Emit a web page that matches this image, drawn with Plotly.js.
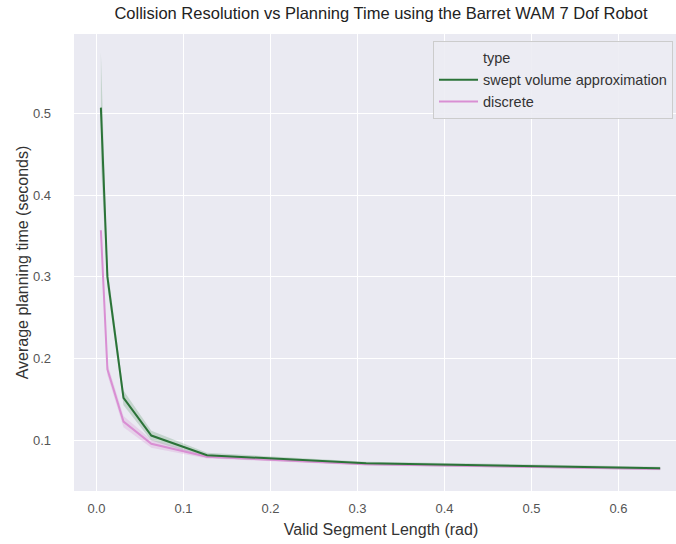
<!DOCTYPE html>
<html>
<head>
<meta charset="utf-8">
<script src="https://cdn.plot.ly/plotly-3.0.1.min.js"></script>
<style>
html,body{margin:0;padding:0;overflow:hidden;background:#fff;width:676px;height:544px;}
#chart{width:688px;height:544px;}
</style>
</head>
<body>
<div id="chart"></div>
<script>
// Data
const segmentLength = [0.005, 0.0125, 0.031, 0.063, 0.127, 0.31, 0.648];
const sweptMean = [0.507, 0.300, 0.152, 0.106, 0.082, 0.072, 0.066];
const sweptHi   = [0.575, 0.312, 0.161, 0.112, 0.085, 0.074, 0.068];
const sweptLo   = [0.440, 0.288, 0.143, 0.100, 0.079, 0.070, 0.064];
const discreteMean = [0.357, 0.187, 0.123, 0.096, 0.080, 0.071, 0.065];
const discreteHi   = [0.365, 0.194, 0.130, 0.101, 0.082, 0.0725, 0.0665];
const discreteLo   = [0.349, 0.180, 0.116, 0.091, 0.078, 0.0695, 0.0635];
const xTicks = [0, 0.1, 0.2, 0.3, 0.4, 0.5, 0.6];
const xTickText = ['0.0', '0.1', '0.2', '0.3', '0.4', '0.5', '0.6'];
const yTicks = [0.1, 0.2, 0.3, 0.4, 0.5];
const yTickText = ['0.1', '0.2', '0.3', '0.4', '0.5'];

const green = '#2b7338';
const pink = '#d98fd3';

const traces = [
  {x: [null], y: [null], mode: 'lines', name: 'type', line: {color: 'rgba(0,0,0,0)', width: 2}, hoverinfo: 'skip', legendrank: 1},
  {x: segmentLength, y: sweptLo, mode: 'lines', line: {width: 0, color: green}, showlegend: false, hoverinfo: 'skip'},
  {x: segmentLength, y: sweptHi, mode: 'lines', line: {width: 0, color: green}, fill: 'tonexty', fillcolor: 'rgba(46,125,60,0.2)', showlegend: false, hoverinfo: 'skip'},
  {x: segmentLength, y: discreteLo, mode: 'lines', line: {width: 0, color: pink}, showlegend: false, hoverinfo: 'skip'},
  {x: segmentLength, y: discreteHi, mode: 'lines', line: {width: 0, color: pink}, fill: 'tonexty', fillcolor: 'rgba(217,143,211,0.28)', showlegend: false, hoverinfo: 'skip'},
  {x: segmentLength, y: discreteMean, mode: 'lines', name: 'discrete', line: {color: pink, width: 2}, legendrank: 3},
  {x: segmentLength, y: sweptMean, mode: 'lines', name: 'swept volume approximation', line: {color: green, width: 2}, legendrank: 2}
];

const font = 'Liberation Sans, Arial, sans-serif';
const layout = {
  width: 688, height: 544,
  margin: {l: 74, r: 0, t: 34, b: 53},
  paper_bgcolor: '#ffffff',
  plot_bgcolor: '#eaeaf2',
  font: {family: font, size: 13, color: '#333'},
  title: {text: 'Collision Resolution vs Planning Time using the Barret WAM 7 Dof Robot',
          font: {family: font, size: 16.5, color: '#222'}, x: 0.5, xref: 'paper', xanchor: 'center', y: 0.975, yref: 'container', yanchor: 'middle'},
  xaxis: {range: [-0.0259, 0.680], tickvals: xTicks, ticktext: xTickText, showgrid: true, gridcolor: '#ffffff', gridwidth: 1.2,
          zeroline: false, showline: false, ticks: '', tickfont: {family: font, size: 13, color: '#555'}, ticklabelstandoff: 8,
          title: {text: 'Valid Segment Length (rad)', font: {family: font, size: 16, color: '#333'}, standoff: 8}},
  yaxis: {range: [0.0382, 0.597], tickvals: yTicks, ticktext: yTickText, showgrid: true, gridcolor: '#ffffff', gridwidth: 1.2,
          zeroline: false, showline: false, ticks: '', tickfont: {family: font, size: 13, color: '#555'}, ticklabelstandoff: 22,
          title: {text: 'Average planning time (seconds)', font: {family: font, size: 16, color: '#333'}, standoff: 0}},
  legend: {x: 0.5847, y: 0.985, xanchor: 'left', yanchor: 'top', bgcolor: 'rgba(236,236,243,0.9)', bordercolor: '#cccccc', borderwidth: 1,
           font: {family: font, size: 14.5, color: '#333'}, traceorder: 'normal', tracegroupgap: 0, itemwidth: 39},
  showlegend: true
};

Plotly.newPlot('chart', traces, layout, {displayModeBar: false, staticPlot: true});
</script>
</body>
</html>
